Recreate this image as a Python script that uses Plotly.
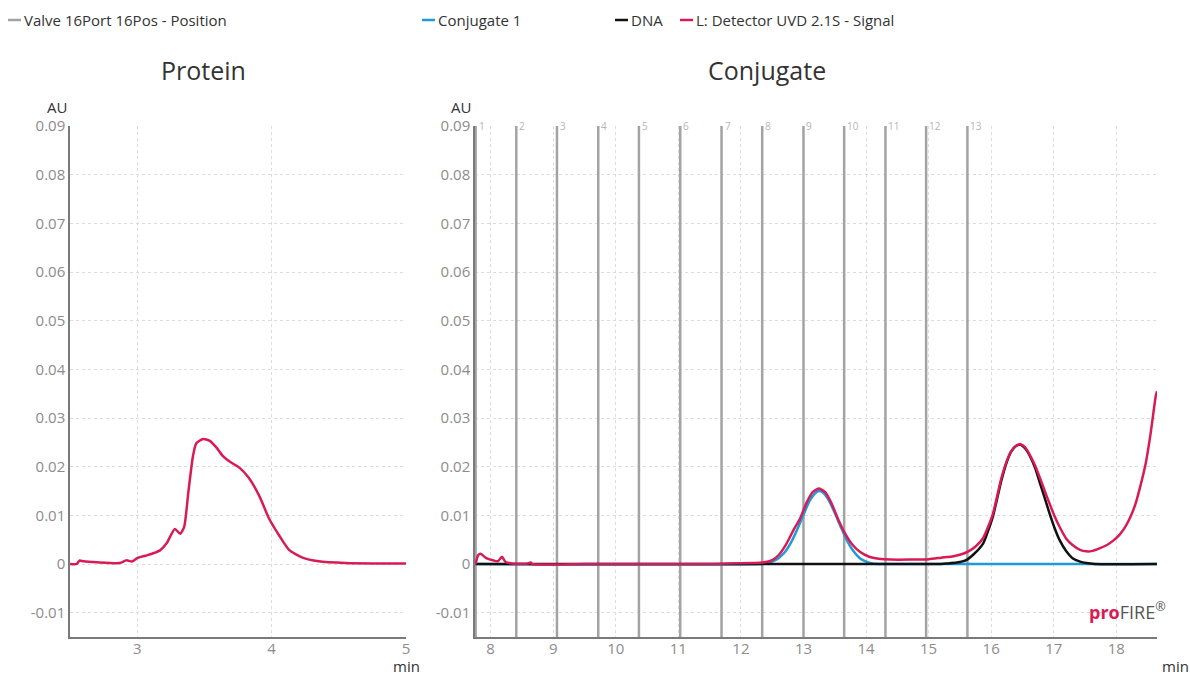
import plotly.graph_objects as go

W, H = 1190, 675

# ---------------- data ----------------
protein_time = [2.50, 2.55, 2.57, 2.60, 2.70, 2.87, 2.92, 2.96, 3.00, 3.06, 3.12, 3.17, 3.22, 3.28,
                3.32, 3.35, 3.38, 3.415, 3.44, 3.49, 3.54, 3.59, 3.64, 3.69, 3.76, 3.83, 3.91,
                3.98, 4.06, 4.13, 4.23, 4.35, 4.55, 4.80, 5.00]
protein_signal = [0.0000, 0.0000, 0.0007, 0.00055, 0.00035, 0.0002, 0.00076, 0.0005, 0.0012, 0.0017,
                  0.0022, 0.0028, 0.0043, 0.0072, 0.0062, 0.0077, 0.0146, 0.0222, 0.0248, 0.0257,
                  0.0253, 0.0239, 0.0221, 0.0210, 0.0198, 0.0177, 0.0139, 0.0094, 0.0057, 0.0029,
                  0.0013, 0.00055, 0.0002, 0.0001, 0.0001]

conj_time = [7.76, 7.80, 7.84, 7.93, 8.05, 8.12, 8.18, 8.24, 8.34, 8.60, 8.64, 8.66, 9.50, 10.50,
             11.50, 11.80, 12.20, 12.35, 12.50, 12.60, 12.72, 12.85, 12.94, 13.05, 13.15, 13.25,
             13.35, 13.45, 13.55, 13.65, 13.78, 13.90, 14.05, 14.20, 14.40, 14.70, 15.00, 15.20,
             15.40, 15.55, 15.65, 15.75, 15.87, 15.95, 16.03, 16.16, 16.25, 16.32, 16.40, 16.47,
             16.54, 16.61, 16.70, 16.77, 16.85, 16.93, 17.01, 17.09, 17.20, 17.30, 17.42, 17.52,
             17.62, 17.73, 17.85, 17.94, 18.05, 18.15, 18.23, 18.31, 18.39, 18.47, 18.55, 18.63,
             18.65]
conj_signal = [0.0000, 0.0018, 0.0021, 0.0012, 0.0007, 0.0006, 0.0015, 0.0004, 0.0001, 0.0001,
               0.0003, 0.0000, 0.0000, 0.0000, 0.0000, 0.0001, 0.0002, 0.0003, 0.0008, 0.0018,
               0.0040, 0.0072, 0.0092, 0.0126, 0.0148, 0.0155, 0.0147, 0.0124, 0.0093, 0.0066,
               0.0040, 0.0025, 0.0015, 0.0011, 0.0009, 0.0009, 0.0010, 0.0013, 0.0016, 0.0021,
               0.0027, 0.0036, 0.0053, 0.0076, 0.0104, 0.0175, 0.0212, 0.0232, 0.0243, 0.0246,
               0.0240, 0.0226, 0.0203, 0.0180, 0.0152, 0.0125, 0.0099, 0.0077, 0.0052, 0.0039,
               0.0029, 0.0026, 0.0027, 0.0032, 0.0039, 0.0047, 0.0060, 0.0078, 0.0098, 0.0125,
               0.0163, 0.0207, 0.0270, 0.0345, 0.0355]

conjugate1_time = [7.76, 12.30, 12.40, 12.50, 12.60, 12.70, 12.80, 12.90, 13.00, 13.10, 13.20, 13.25,
                   13.30, 13.40, 13.50, 13.60, 13.70, 13.80, 13.90, 14.00, 14.10, 14.20, 18.65]
conjugate1_signal = [0.0, 0.0, 0.0002, 0.0005, 0.0012, 0.0024, 0.0044, 0.0071, 0.0101, 0.0130,
                     0.0147, 0.0150, 0.0148, 0.0132, 0.0105, 0.0075, 0.0047, 0.0026, 0.0012,
                     0.0005, 0.0001, 0.0, 0.0]

dna_time = [7.76, 15.20, 15.30, 15.45, 15.60, 15.72, 15.87, 15.95, 16.03, 16.16, 16.25, 16.32,
            16.40, 16.47, 16.54, 16.61, 16.70, 16.77, 16.85, 16.93, 17.01, 17.09, 17.20, 17.30,
            17.42, 17.52, 17.65, 18.65]
dna_signal = [0.0, 0.0, 0.0001, 0.0003, 0.0008, 0.0020, 0.0042, 0.0068, 0.0099, 0.0170, 0.0210,
              0.0231, 0.0243, 0.0245, 0.0238, 0.0224, 0.0198, 0.0170, 0.0138, 0.0105, 0.0075,
              0.0050, 0.0026, 0.0012, 0.0005, 0.0002, 0.0, 0.0]

valve_times = [7.76, 8.41, 9.06, 9.72, 10.37, 11.03, 11.69, 12.34, 13.00, 13.65, 14.31, 14.96, 15.62]
valve_positions = ["1", "2", "3", "4", "5", "6", "7", "8", "9", "10", "11", "12", "13"]

y_ticks = [-0.01, 0.0, 0.01, 0.02, 0.03, 0.04, 0.05, 0.06, 0.07, 0.08, 0.09]
y_ticktext = ["-0.01", "0", "0.01", "0.02", "0.03", "0.04", "0.05", "0.06", "0.07", "0.08", "0.09"]
protein_xticks = [3, 4, 5]
conj_xticks = [8, 9, 10, 11, 12, 13, 14, 15, 16, 17, 18]

# ---------------- styles ----------------
RED = "#d81b55"
BLUE = "#1e9bd7"
BLACK = "#111111"
VALVE = "#a3a3a3"
FONT = "Open Sans"
Y_RANGE = [-0.015, 0.09]

def px(x):
    return x / W

def py(y):
    return 1 - y / H

fig = go.Figure()

# valve position switches (vertical segments spanning plot height)
vx, vy = [], []
for t in valve_times:
    vx += [t, t, None]
    vy += [Y_RANGE[0], Y_RANGE[1], None]
fig.add_trace(go.Scatter(x=vx, y=vy, mode="lines", line=dict(color=VALVE, width=2.5),
                         xaxis="x2", yaxis="y2", hoverinfo="skip", showlegend=False))

fig.add_trace(go.Scatter(x=protein_time, y=protein_signal, mode="lines",
                         line=dict(color=RED, width=2.5, shape="spline", smoothing=0.6),
                         xaxis="x", yaxis="y", showlegend=False))
fig.add_trace(go.Scatter(x=conjugate1_time, y=conjugate1_signal, mode="lines",
                         line=dict(color=BLUE, width=2.5, shape="spline", smoothing=0.6),
                         xaxis="x2", yaxis="y2", showlegend=False))
fig.add_trace(go.Scatter(x=dna_time, y=dna_signal, mode="lines",
                         line=dict(color=BLACK, width=2.5, shape="spline", smoothing=0.6),
                         xaxis="x2", yaxis="y2", showlegend=False))
fig.add_trace(go.Scatter(x=conj_time, y=conj_signal, mode="lines",
                         line=dict(color=RED, width=2.5, shape="spline", smoothing=0.6),
                         xaxis="x2", yaxis="y2", showlegend=False))

axis_common = dict(showgrid=True, gridcolor="#dcdcdc", griddash="dot", gridwidth=1,
                   showline=True, linecolor="#7a7a7a", linewidth=1.5, zeroline=False,
                   automargin=False,
                   ticks="", tickfont=dict(family=FONT, size=15, color="#8c8c8c"))

y_dom = [py(637), py(126)]
fig.update_layout(
    template="none",
    width=W, height=H,
    autosize=False,
    margin=dict(l=0, r=0, t=0, b=0, pad=0),
    paper_bgcolor="white", plot_bgcolor="white",
    font=dict(family=FONT, color="#333333"),
    showlegend=False,
    xaxis=dict(domain=[px(70), px(406)], range=[2.5, 5.0], tickvals=protein_xticks,
               anchor="y", ticklabelstandoff=-3, **axis_common),
    yaxis=dict(domain=y_dom, range=Y_RANGE, tickvals=y_ticks, ticktext=y_ticktext,
               anchor="x", **axis_common),
    xaxis2=dict(domain=[px(475), px(1157)], range=[7.75, 18.65], tickvals=conj_xticks,
                anchor="y2", ticklabelstandoff=-3, **axis_common),
    yaxis2=dict(domain=y_dom, range=Y_RANGE, tickvals=y_ticks, ticktext=y_ticktext,
                anchor="x2", **axis_common),
)

annotations = []
shapes = []

def label(text, x, y, size, color="#333333", xanchor="center"):
    return dict(text=text, x=px(x), y=py(y), xref="paper", yref="paper",
                xanchor=xanchor, yanchor="middle", showarrow=False,
                font=dict(family=FONT, size=size, color=color))

# titles
annotations.append(label("Protein", 203, 70, 25))
annotations.append(label("Conjugate", 767, 70, 25))
# unit labels
for ax_x in (57, 461):
    annotations.append(label("AU", ax_x, 107, 15))
for ax_x in (406, 1175):
    annotations.append(label("min", ax_x, 666, 15))

# valve position labels
for t, lab in zip(valve_times, valve_positions):
    annotations.append(dict(text=lab, x=t, y=0.09, xref="x2", yref="y2", xanchor="left",
                            yanchor="middle", xshift=1, showarrow=False,
                            font=dict(family=FONT, size=10, color="#b5b5b5")))

# legend (manual)
legend_items = [("Valve 16Port 16Pos - Position", VALVE, 8),
                ("Conjugate 1", BLUE, 422),
                ("DNA", BLACK, 615),
                ("L: Detector UVD 2.1S - Signal", RED, 680)]
for name, col, x0 in legend_items:
    shapes.append(dict(type="line", xref="paper", yref="paper", x0=px(x0), x1=px(x0 + 13),
                       y0=py(20), y1=py(20), line=dict(color=col, width=2.5)))
    annotations.append(label(name, x0 + 14, 20, 15, xanchor="left"))

# proFIRE mark
annotations.append(dict(text=f"<b><span style='color:{RED}'>pro</span></b>FIRE<sup>®</sup>",
                        x=px(1168), y=py(611), xref="paper", yref="paper", xanchor="right",
                        yanchor="middle", showarrow=False,
                        font=dict(family=FONT, size=18, color="#555555")))

fig.update_layout(annotations=annotations, shapes=shapes)

fig.write_html(
    "out.html",
    config={"displayModeBar": False},
    post_script="document.body.style.margin='0px';document.body.style.overflow='hidden';",
)
